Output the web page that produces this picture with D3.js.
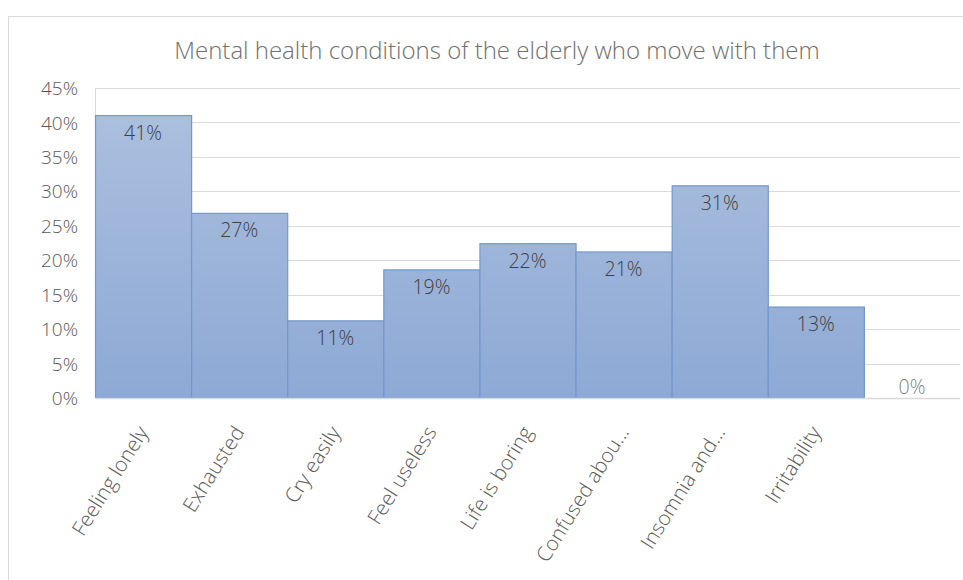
<!DOCTYPE html>
<html>
<head>
<meta charset="utf-8">
<script src="https://cdn.jsdelivr.net/npm/d3@7"></script>
<style>
html,body{margin:0;padding:0;background:#fff;}
svg{display:block;}
text{font-family:"Open Sans","Noto Sans",sans-serif;}
</style>
</head>
<body>
<svg id="chart" width="963" height="580"></svg>
<script>
const title = "Mental health conditions of the elderly who move with them";
const categories = ["Feeling lonely","Exhausted","Cry easily","Feel useless","Life is boring","Confused abou...","Insomnia and...","Irritability",""];
const values = [0.41, 0.268, 0.112, 0.186, 0.224, 0.212, 0.308, 0.132, 0];
const dataLabels = ["41%","27%","11%","19%","22%","21%","31%","13%","0%"];
const yTicks = [0,0.05,0.10,0.15,0.20,0.25,0.30,0.35,0.40,0.45];

const svg = d3.select("#chart");
const W = 963, H = 580;
const m = {left:95, right:3, top:88, bottom:182};

const defs = svg.append("defs");
const grad = defs.append("linearGradient").attr("id","barGrad")
  .attr("gradientUnits","userSpaceOnUse")
  .attr("x1",0).attr("y1",m.top).attr("x2",0).attr("y2",H-m.bottom);
grad.append("stop").attr("offset","0%").attr("stop-color","#aec1df");
grad.append("stop").attr("offset","100%").attr("stop-color","#8da9d5");

// outer chart border
svg.append("rect").attr("x",8.5).attr("y",16.5).attr("width",W+20).attr("height",H+20)
  .attr("fill","none").attr("stroke","#d9d9d9").attr("stroke-width",1);

const x = d3.scaleBand().domain(categories.map((c,i)=>i)).range([m.left, W-m.right]).padding(0);
const y = d3.scaleLinear().domain([0,0.45]).range([H-m.bottom, m.top]);

// gridlines
svg.append("g").selectAll("line").data(yTicks.slice(1)).join("line")
  .attr("x1",m.left).attr("x2",W-m.right)
  .attr("y1",d=>Math.round(y(d))+0.5).attr("y2",d=>Math.round(y(d))+0.5)
  .attr("stroke","#d9d9d9").attr("stroke-width",1);

// y axis
const yAxis = d3.axisLeft(y).tickValues(yTicks).tickFormat(d3.format(".0%")).tickSize(0).tickPadding(17);
const gy = svg.append("g").attr("transform",`translate(${m.left},0)`).call(yAxis);
gy.select(".domain").attr("stroke","#d9d9d9").attr("d",`M0.5,${y(0.45)}V${y(0)}`);
gy.selectAll("text").attr("fill","#595959").attr("font-size","19px").attr("font-weight",300).attr("dy","0.35em");

// bars
svg.append("g").selectAll("rect").data(values).join("rect")
  .attr("x",(d,i)=>x(i)+0.5).attr("width",x.bandwidth())
  .attr("y",d=>y(d)).attr("height",d=>y(0)-y(d))
  .attr("fill","url(#barGrad)").attr("stroke","#7398cb").attr("stroke-width",1.2)
  .attr("display",d=>d>0?null:"none");

// x axis
const xAxis = d3.axisBottom(x).tickFormat(i=>categories[i]).tickSize(0).tickPadding(0);
const gx = svg.append("g").attr("transform",`translate(0,${y(0)})`).call(xAxis);
gx.select(".domain").attr("stroke","#d9d9d9").attr("stroke-width",1.5).attr("d",`M${m.left},0.5H${W-m.right}`);
gx.selectAll("text").attr("fill","#595959").attr("font-size","20.5px").attr("font-weight",300)
  .attr("text-anchor","end").attr("dy",0)
  .attr("transform","translate(6,34) rotate(-58)");

// data labels
svg.append("g").selectAll("text").data(values).join("text")
  .attr("x",(d,i)=>x(i)+x.bandwidth()/2)
  .attr("y",d=>d>0? y(d)+24 : y(0)-4)
  .attr("text-anchor","middle")
  .attr("fill",d=>d>0?"#404040":"#7f7f7f")
  .attr("font-size","19.5px").attr("font-weight",300)
  .text((d,i)=>dataLabels[i]);

// title
svg.append("text").attr("x",497).attr("y",59).attr("text-anchor","middle")
  .attr("fill","#6f6f6f").attr("font-size","24px").attr("font-weight",300)
  .text(title);
</script>
</body>
</html>
